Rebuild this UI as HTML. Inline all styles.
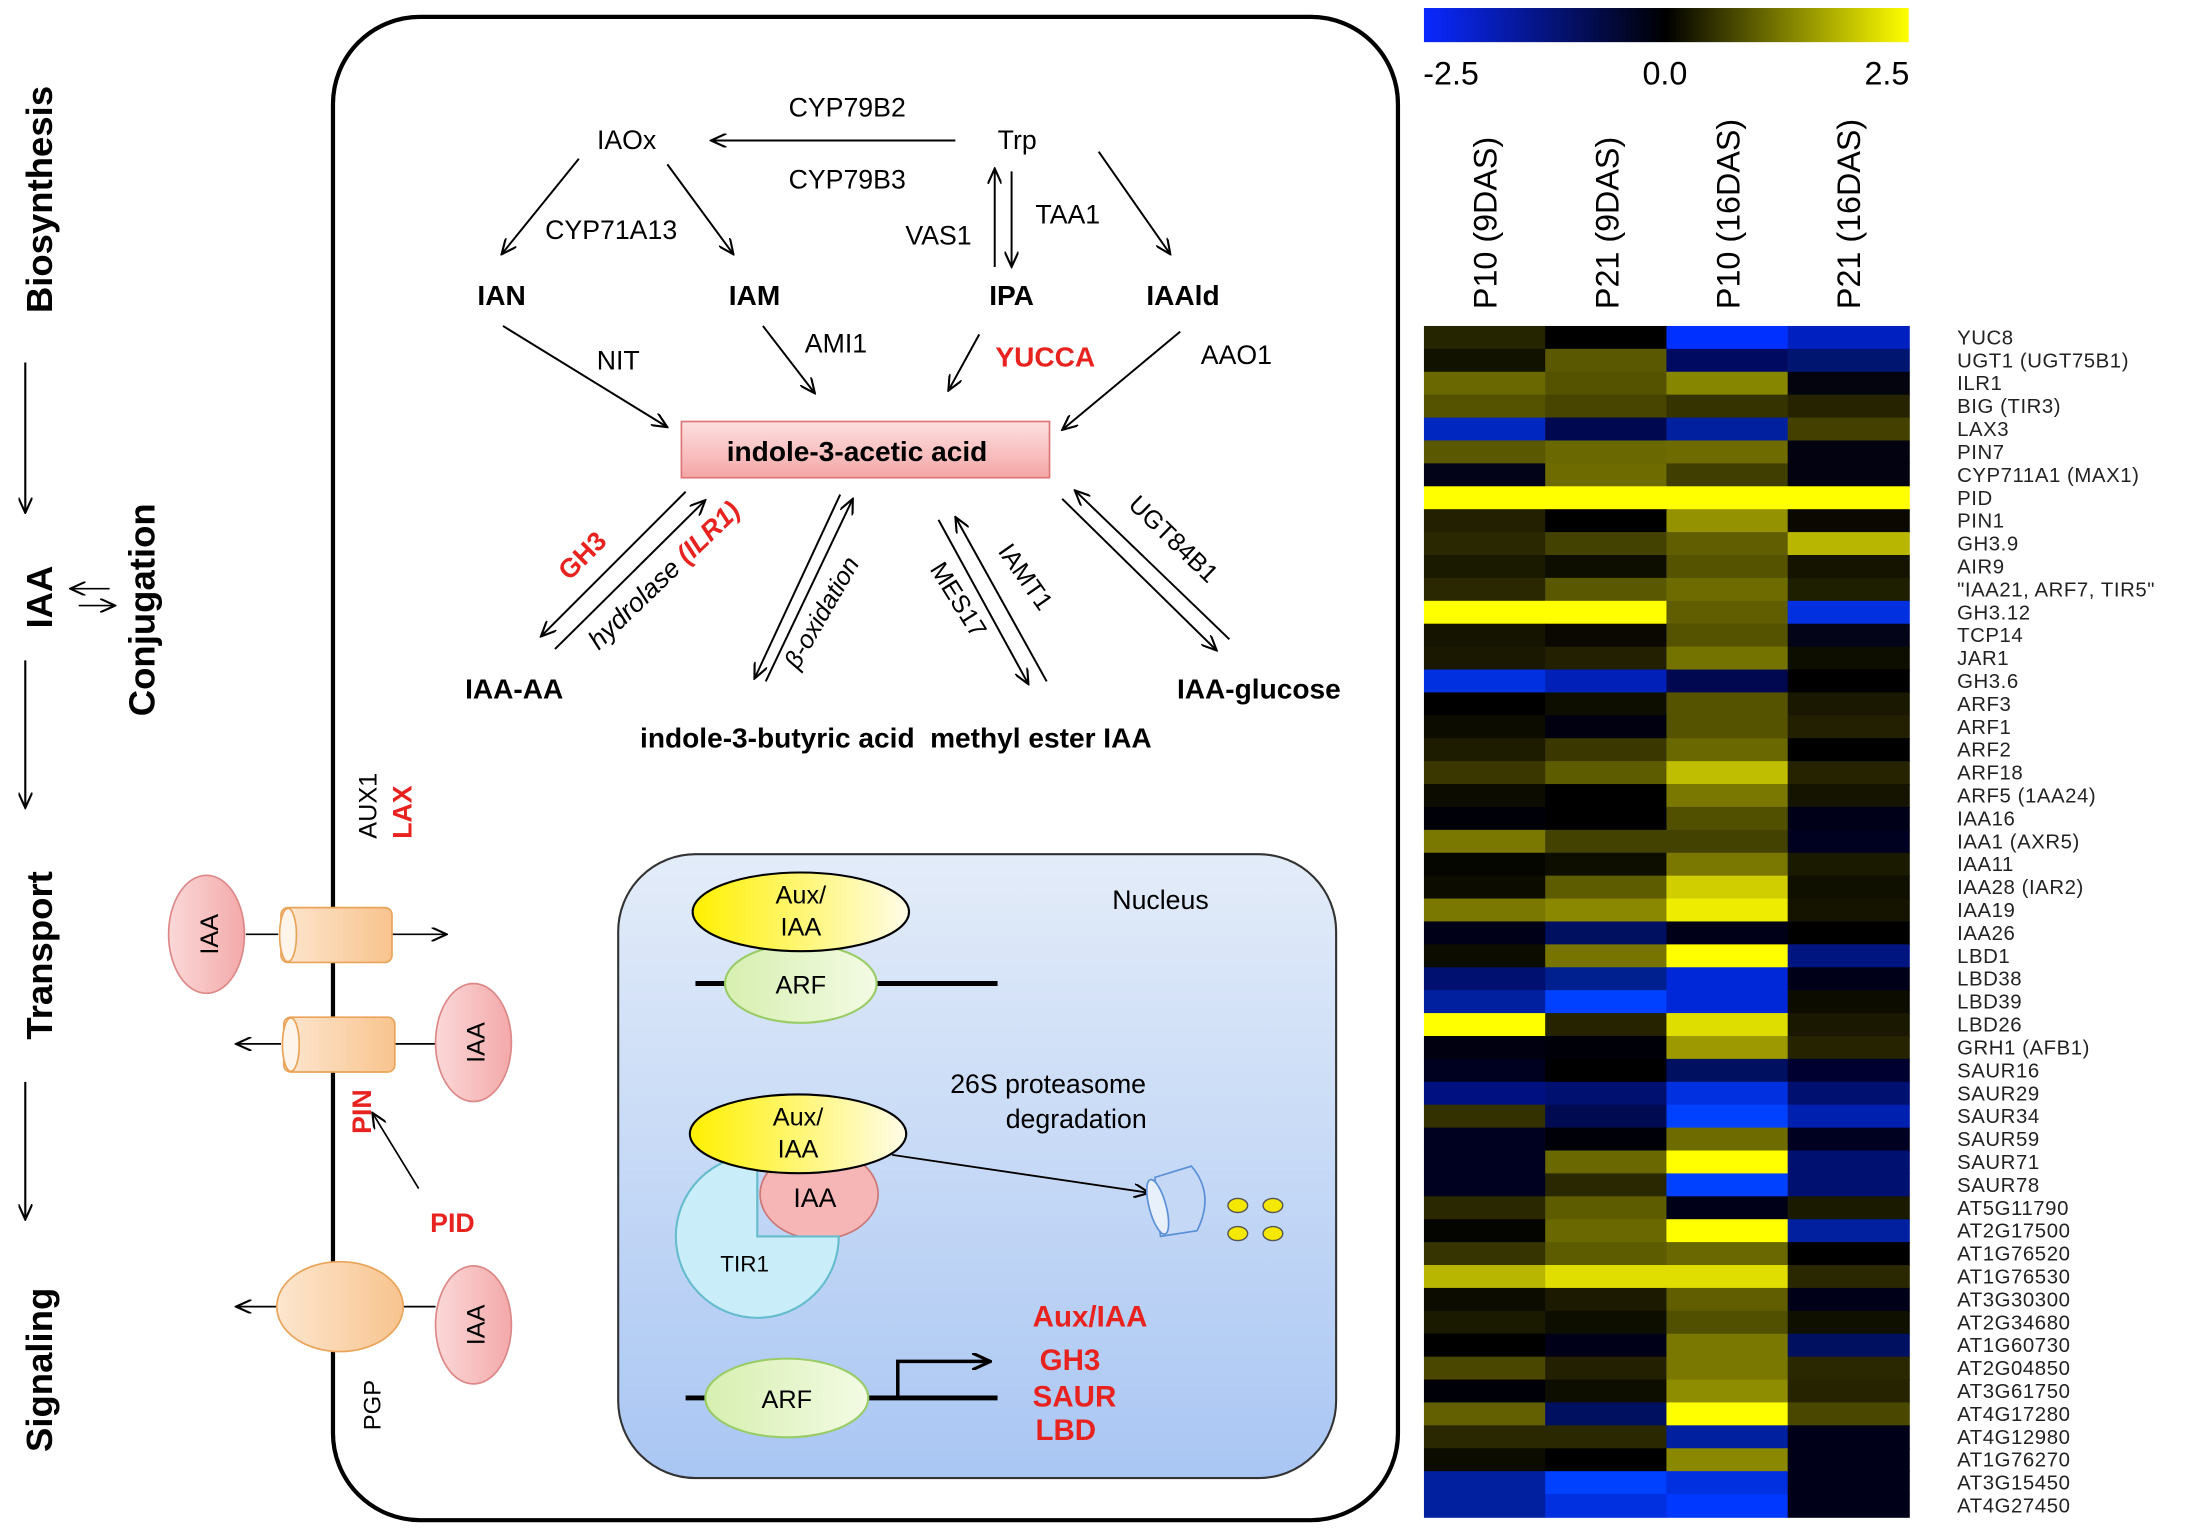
<!DOCTYPE html>
<html><head><meta charset="utf-8"><style>
html,body{margin:0;padding:0;background:#fff;}
svg{display:block;}
text{font-family:"Liberation Sans",sans-serif;}
</style></head><body>
<svg width="2203" height="1532" viewBox="0 0 1568 1090.4" xmlns="http://www.w3.org/2000/svg">
<defs>
<marker id="ah" markerWidth="12" markerHeight="10" refX="11" refY="5" orient="auto" markerUnits="userSpaceOnUse"><path d="M0,0 L11,5 L0,10" fill="none" stroke="#000" stroke-width="1.5"/></marker>
<marker id="ah2" markerWidth="14" markerHeight="12" refX="13" refY="6" orient="auto" markerUnits="userSpaceOnUse"><path d="M0,0 L13,6 L0,12" fill="none" stroke="#000" stroke-width="2.2"/></marker>
<linearGradient id="cb" x1="0" x2="1"><stop offset="0" stop-color="#0a28ff"/><stop offset="0.5" stop-color="#000"/><stop offset="1" stop-color="#ffff00"/></linearGradient>
<linearGradient id="pk" x1="0" y1="0" x2="0" y2="1"><stop offset="0" stop-color="#fde0e0"/><stop offset="1" stop-color="#f4a6a6"/></linearGradient>
<linearGradient id="nuc" x1="0" y1="0" x2="0" y2="1"><stop offset="0" stop-color="#e3ecf9"/><stop offset="1" stop-color="#a9c6f3"/></linearGradient>
<linearGradient id="yl" x1="0" x2="1"><stop offset="0" stop-color="#fff000"/><stop offset="1" stop-color="#fffce8"/></linearGradient>
<linearGradient id="gr" x1="0" x2="1"><stop offset="0" stop-color="#d7efb0"/><stop offset="1" stop-color="#f3fbe4"/></linearGradient>
<linearGradient id="or" x1="0" x2="1"><stop offset="0" stop-color="#fde6cf"/><stop offset="1" stop-color="#f8c48e"/></linearGradient>
<linearGradient id="ip" x1="0" x2="1"><stop offset="0" stop-color="#fbd8d8"/><stop offset="1" stop-color="#f3a9a9"/></linearGradient>
</defs>

<g font-weight="bold" font-size="26">
<text transform="translate(37,142) rotate(-90)" text-anchor="middle">Biosynthesis</text>
<text transform="translate(37,425) rotate(-90)" text-anchor="middle">IAA</text>
<text transform="translate(110,434) rotate(-90)" text-anchor="middle">Conjugation</text>
<text transform="translate(37,680) rotate(-90)" text-anchor="middle">Transport</text>
<text transform="translate(37,975) rotate(-90)" text-anchor="middle">Signaling</text>
</g>
<g stroke="#000" stroke-width="1.5" fill="none">
<line x1="18" y1="258" x2="18" y2="365" marker-end="url(#ah)"/>
<line x1="18" y1="470" x2="18" y2="575" marker-end="url(#ah)"/>
<line x1="18" y1="770" x2="18" y2="868" marker-end="url(#ah)"/>
<line x1="78" y1="419" x2="50" y2="419" marker-end="url(#ah)" stroke-width="1.2"/>
<line x1="56" y1="431" x2="82" y2="431" marker-end="url(#ah)" stroke-width="1.2"/>
</g>

<rect x="237" y="12" width="758" height="1070" rx="62" fill="none" stroke="#000" stroke-width="3"/>

<g font-size="19">
<text x="603" y="83" text-anchor="middle">CYP79B2</text>
<text x="603" y="134" text-anchor="middle">CYP79B3</text>
<text x="446" y="106" text-anchor="middle">IAOx</text>
<text x="724" y="106" text-anchor="middle">Trp</text>
<text x="435" y="170" text-anchor="middle">CYP71A13</text>
<text x="668" y="174" text-anchor="middle">VAS1</text>
<text x="760" y="159" text-anchor="middle">TAA1</text>
<text x="440" y="263" text-anchor="middle">NIT</text>
<text x="595" y="251" text-anchor="middle">AMI1</text>
<text x="880" y="259" text-anchor="middle">AAO1</text>
</g>
<g font-size="20" font-weight="bold">
<text x="357" y="217" text-anchor="middle">IAN</text>
<text x="537" y="217" text-anchor="middle">IAM</text>
<text x="720" y="217" text-anchor="middle">IPA</text>
<text x="842" y="217" text-anchor="middle">IAAld</text>
<text x="744" y="261" text-anchor="middle" fill="#e8231f">YUCCA</text>
<text x="366" y="497" text-anchor="middle">IAA-AA</text>
<text x="896" y="497" text-anchor="middle">IAA-glucose</text>
<text x="651" y="532" text-anchor="end">indole-3-butyric acid</text>
<text x="662" y="532" text-anchor="start">methyl ester IAA</text>
</g>
<g stroke="#000" stroke-width="1.4" fill="none">
<line x1="680" y1="100" x2="506" y2="100" marker-end="url(#ah)"/>
<line x1="412" y1="113" x2="357" y2="181" marker-end="url(#ah)"/>
<line x1="475" y1="117" x2="522" y2="181" marker-end="url(#ah)"/>
<line x1="708" y1="190" x2="708" y2="120" marker-end="url(#ah)"/>
<line x1="720" y1="122" x2="720" y2="190" marker-end="url(#ah)"/>
<line x1="782" y1="108" x2="833" y2="181" marker-end="url(#ah)"/>
<line x1="358" y1="232" x2="475" y2="304" marker-end="url(#ah)"/>
<line x1="543" y1="232" x2="580" y2="280" marker-end="url(#ah)"/>
<line x1="697" y1="238" x2="675" y2="278" marker-end="url(#ah)"/>
<line x1="840" y1="236" x2="756" y2="306" marker-end="url(#ah)"/>
<line x1="488" y1="350" x2="385" y2="453" marker-end="url(#ah)"/>
<line x1="395" y1="462" x2="502" y2="356" marker-end="url(#ah)"/>
<line x1="598" y1="352" x2="537" y2="483" marker-end="url(#ah)"/>
<line x1="545" y1="485" x2="607" y2="355" marker-end="url(#ah)"/>
<line x1="668" y1="370" x2="732" y2="487" marker-end="url(#ah)"/>
<line x1="745" y1="485" x2="680" y2="368" marker-end="url(#ah)"/>
<line x1="756" y1="355" x2="866" y2="463" marker-end="url(#ah)"/>
<line x1="875" y1="455" x2="765" y2="349" marker-end="url(#ah)"/>
</g>
<rect x="485" y="300" width="262" height="40" fill="url(#pk)" stroke="#d77" stroke-width="1.2"/>
<text x="610" y="328" text-anchor="middle" font-size="20" font-weight="bold">indole-3-acetic acid</text>
<text transform="translate(419,400) rotate(-45)" text-anchor="middle" font-size="19" font-weight="bold" fill="#e8231f">GH3</text>
<text transform="translate(477,414) rotate(-44)" text-anchor="middle" font-size="19"><tspan font-style="italic">hydrolase </tspan><tspan fill="#e8231f" font-weight="bold" font-style="italic">(ILR1)</tspan></text>
<text transform="translate(590,439) rotate(-60)" text-anchor="middle" font-size="18" font-style="italic">β-oxidation</text>
<text transform="translate(725,414) rotate(55)" text-anchor="middle" font-size="18">IAMT1</text>
<text transform="translate(677,430) rotate(58)" text-anchor="middle" font-size="18">MES17</text>
<text transform="translate(831,388) rotate(44)" text-anchor="middle" font-size="18">UGT84B1</text>

<text transform="translate(268,597) rotate(-90)" font-size="18">AUX1</text>
<text transform="translate(293,597) rotate(-90)" font-size="19" font-weight="bold" fill="#e8231f">LAX</text>
<g stroke="#000" stroke-width="1.2" fill="none">
<line x1="175" y1="665" x2="198" y2="665"/>
<line x1="279" y1="665" x2="318" y2="665" marker-end="url(#ah)"/>
<line x1="280" y1="743" x2="310" y2="743"/>
<line x1="200" y1="743" x2="168" y2="743" marker-end="url(#ah)"/>
<line x1="287" y1="930" x2="310" y2="930"/>
<line x1="198" y1="930" x2="168" y2="930" marker-end="url(#ah)"/>
<line x1="298" y1="846" x2="265" y2="792" marker-end="url(#ah)"/>
</g>
<ellipse cx="147" cy="665" rx="27" ry="42" fill="url(#ip)" stroke="#d88" stroke-width="1.2"/>
<text transform="translate(155,665) rotate(-90)" text-anchor="middle" font-size="18">IAA</text>
<rect x="200" y="646" width="79" height="39" rx="5" fill="url(#or)" stroke="#e9a45a" stroke-width="1.2"/>
<ellipse cx="205" cy="665.5" rx="6" ry="19" fill="#fff4ea" stroke="#e9a45a" stroke-width="1.2"/>
<rect x="202" y="724" width="79" height="39" rx="5" fill="url(#or)" stroke="#e9a45a" stroke-width="1.2"/>
<ellipse cx="207" cy="743.5" rx="6" ry="19" fill="#fff4ea" stroke="#e9a45a" stroke-width="1.2"/>
<ellipse cx="337" cy="742" rx="27" ry="42" fill="url(#ip)" stroke="#d88" stroke-width="1.2"/>
<text transform="translate(345,742) rotate(-90)" text-anchor="middle" font-size="18">IAA</text>
<text transform="translate(264,807) rotate(-90)" font-size="19" font-weight="bold" fill="#e8231f">PIN</text>
<text x="322" y="877" text-anchor="middle" font-size="19" font-weight="bold" fill="#e8231f">PID</text>
<ellipse cx="242" cy="930" rx="45" ry="32" fill="url(#or)" stroke="#e9a45a" stroke-width="1.2"/>
<ellipse cx="337" cy="943" rx="27" ry="42" fill="url(#ip)" stroke="#d88" stroke-width="1.2"/>
<text transform="translate(345,943) rotate(-90)" text-anchor="middle" font-size="18">IAA</text>
<text transform="translate(271,1018) rotate(-90)" font-size="17">PGP</text>

<rect x="440" y="608" width="511" height="444" rx="55" fill="url(#nuc)" stroke="#333" stroke-width="1.5"/>
<text x="826" y="647" text-anchor="middle" font-size="19">Nucleus</text>
<line x1="495" y1="700" x2="710" y2="700" stroke="#000" stroke-width="3.5"/>
<ellipse cx="570" cy="700" rx="54" ry="28" fill="url(#gr)" stroke="#9c6" stroke-width="1.5"/>
<text x="570" y="707" text-anchor="middle" font-size="18">ARF</text>
<ellipse cx="570" cy="649" rx="77" ry="28" fill="url(#yl)" stroke="#000" stroke-width="1.5"/>
<text x="570" y="643" text-anchor="middle" font-size="18">Aux/</text>
<text x="570" y="666" text-anchor="middle" font-size="18">IAA</text>
<text x="746" y="778" text-anchor="middle" font-size="19">26S proteasome</text>
<text x="766" y="803" text-anchor="middle" font-size="19">degradation</text>
<ellipse cx="583" cy="850" rx="42" ry="32" fill="#f6b6b6" stroke="#c77" stroke-width="1.2"/>
<path d="M539,880 L539,822 A58,58 0 1 0 597,880 Z" fill="#c9edf9" stroke="#6bc" stroke-width="1.5"/>
<text x="530" y="905" text-anchor="middle" font-size="16">TIR1</text>
<text x="580" y="859" text-anchor="middle" font-size="19">IAA</text>
<ellipse cx="568" cy="807" rx="77" ry="28" fill="url(#yl)" stroke="#000" stroke-width="1.5"/>
<text x="568" y="801" text-anchor="middle" font-size="18">Aux/</text>
<text x="568" y="824" text-anchor="middle" font-size="18">IAA</text>
<line x1="635" y1="822" x2="818" y2="849" stroke="#000" stroke-width="1.3" marker-end="url(#ah)"/>
<path d="M822,838 L848,830 Q865,850 852,876 L826,880 Z" fill="#c5d8f5" stroke="#5b8fd8" stroke-width="1.2"/>
<ellipse cx="824" cy="859" rx="6" ry="20" fill="#e8f0fc" stroke="#5b8fd8" stroke-width="1.2" transform="rotate(-15 824 859)"/>
<g fill="#f4e800" stroke="#555" stroke-width="1">
<ellipse cx="881" cy="858" rx="7" ry="5"/><ellipse cx="906" cy="858" rx="7" ry="5"/>
<ellipse cx="881" cy="878" rx="7" ry="5"/><ellipse cx="906" cy="878" rx="7" ry="5"/>
</g>
<line x1="488" y1="995" x2="710" y2="995" stroke="#000" stroke-width="3.5"/>
<polyline points="639,995 639,969 705,969" fill="none" stroke="#000" stroke-width="2.5" marker-end="url(#ah2)"/>
<ellipse cx="560" cy="995" rx="58" ry="28" fill="url(#gr)" stroke="#9c6" stroke-width="1.5"/>
<text x="560" y="1002" text-anchor="middle" font-size="18">ARF</text>
<g font-size="21" font-weight="bold" fill="#e8231f">
<text x="735" y="944">Aux/IAA</text>
<text x="740" y="975">GH3</text>
<text x="735" y="1001">SAUR</text>
<text x="737" y="1025">LBD</text>
</g>

<rect x="1013.5" y="5.7" width="345" height="24.3" fill="url(#cb)"/>
<g font-size="23">
<text x="1013" y="60">-2.5</text>
<text x="1185" y="60" text-anchor="middle">0.0</text>
<text x="1359" y="60" text-anchor="end">2.5</text>
</g>
<g font-size="23">
<text transform="translate(1065,220) rotate(-90)">P10 (9DAS)</text>
<text transform="translate(1152,220) rotate(-90)">P21 (9DAS)</text>
<text transform="translate(1238,220) rotate(-90)">P10 (16DAS)</text>
<text transform="translate(1324,220) rotate(-90)">P21 (16DAS)</text>
</g>
<g id="hm"></g>
<g id="gl" font-size="14.5" letter-spacing="0.4" fill="#222"></g>
</svg>
<script>
var rows=[
["#252500","#000000","#0030ff","#0020c0","YUC8"],
["#121200","#5a5800","#000a60","#001570","UGT1 (UGT75B1)"],
["#6a6800","#555300","#868600","#04040e","ILR1"],
["#555300","#474500","#353300","#252300","BIG (TIR3)"],
["#0028c0","#000850","#0020a0","#444000","LAX3"],
["#5a5800","#6a6800","#6e6c00","#020210","PIN7"],
["#020218","#6e6c00","#403e00","#020210","CYP711A1 (MAX1)"],
["#ffff00","#ffff00","#ffff00","#ffff00","PID"],
["#222000","#000000","#949200","#0a0800","PIN1"],
["#2a2800","#444200","#605e00","#b8b600","GH3.9"],
["#1a1a00","#0e0e00","#555300","#141400","AIR9"],
["#2a2800","#5a5800","#6e6c00","#1e1e00","\"IAA21, ARF7, TIR5\""],
["#ffff00","#ffff00","#605e00","#0030e0","GH3.12"],
["#141400","#0a0800","#555300","#040418","TCP14"],
["#1a1800","#222000","#757300","#0e0e00","JAR1"],
["#0030e0","#0020b8","#020850","#000000","GH3.6"],
["#000000","#0e0e00","#555300","#1a1800","ARF3"],
["#0c0c00","#000010","#555300","#222000","ARF1"],
["#1e1c00","#3a3800","#6a6800","#000000","ARF2"],
["#3a3800","#5e5c00","#c0be00","#252300","ARF18"],
["#0c0c00","#000000","#7a7800","#141400","ARF5 (1AA24)"],
["#000008","#000000","#505000","#000018","IAA16"],
["#7a7800","#444200","#444200","#000020","IAA1 (AXR5)"],
["#060600","#0e0e00","#7a7800","#1a1a00","IAA11"],
["#0c0c00","#5e5c00","#d0ce00","#101000","IAA28 (IAR2)"],
["#7a7800","#8a8800","#eeec00","#141400","IAA19"],
["#000018","#001060","#000018","#000000","IAA26"],
["#0c0c00","#777500","#ffff00","#001580","LBD1"],
["#001070","#002090","#0028d8","#000018","LBD38"],
["#0020a0","#0040ff","#0028d8","#0c0c00","LBD39"],
["#ffff00","#252300","#dede00","#1a1800","LBD26"],
["#000010","#000008","#9c9a00","#252300","GRH1 (AFB1)"],
["#000020","#000000","#001060","#000030","SAUR16"],
["#001080","#001070","#0030e0","#001070","SAUR29"],
["#333100","#000a50","#0040ff","#0020b0","SAUR34"],
["#000020","#000008","#6e6c00","#000020","SAUR59"],
["#000020","#6a6800","#ffff00","#001070","SAUR71"],
["#000020","#2a2800","#0040ff","#001070","SAUR78"],
["#2a2800","#5e5c00","#000018","#1a1a00","AT5G11790"],
["#040400","#6a6800","#ffff00","#0020a0","AT2G17500"],
["#363400","#5e5c00","#6a6800","#000000","AT1G76520"],
["#b8b600","#e0de00","#e0de00","#2a2800","AT1G76530"],
["#0c0c00","#1c1a00","#605e00","#000018","AT3G30300"],
["#1a1a00","#0e0e00","#505000","#101000","AT2G34680"],
["#000000","#000018","#7a7800","#001060","AT1G60730"],
["#4a4800","#222000","#7a7800","#2a2800","AT2G04850"],
["#000008","#0e0e00","#8e8c00","#252300","AT3G61750"],
["#626000","#001060","#ffff00","#4a4800","AT4G17280"],
["#2a2800","#2a2800","#0020a0","#000018","AT4G12980"],
["#0c0c00","#000000","#8a8800","#000018","AT1G76270"],
["#0020a0","#0040ff","#0030e0","#000018","AT3G15450"],
["#0020a0","#0030e0","#0038ff","#000018","AT4G27450"]];
var NS="http://www.w3.org/2000/svg",hm=document.getElementById("hm"),gl=document.getElementById("gl");
var x0=1013.5,cw=86.3,y0=232,rh=(1079.7-232)/52;
rows.forEach(function(r,i){
 for(var j=0;j<4;j++){var e=document.createElementNS(NS,"rect");
  e.setAttribute("x",x0+j*cw);e.setAttribute("y",y0+i*rh);
  e.setAttribute("width",cw+0.6);e.setAttribute("height",rh+0.6);
  e.setAttribute("fill",r[j]);hm.appendChild(e);}
 var t=document.createElementNS(NS,"text");t.setAttribute("x",1393);
 t.setAttribute("y",y0+i*rh+rh/2+5);t.textContent=r[4];gl.appendChild(t);
});
</script>
</body></html>
